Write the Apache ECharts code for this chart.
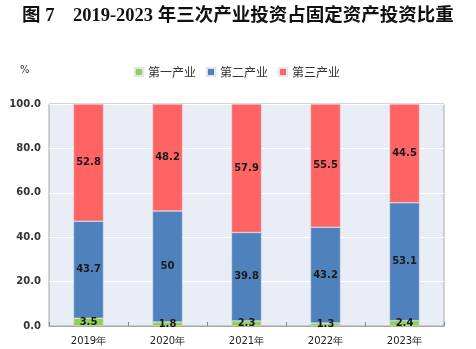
<!DOCTYPE html>
<html><head><meta charset="utf-8">
<script src="https://cdn.jsdelivr.net/npm/echarts@6/dist/echarts.min.js"></script>
<style>html,body{margin:0;padding:0;background:#fff}#c{width:476px;height:349px}</style>
</head><body><div id="c"></div>
<script>
const categories = ['2019年','2020年','2021年','2022年','2023年'];
const primary = [3.5, 1.8, 2.3, 1.3, 2.4];
const secondary = [43.7, 50, 39.8, 43.2, 53.1];
const tertiary = [52.8, 48.2, 57.9, 55.5, 44.5];
const yTicks = [0, 20, 40, 60, 80, 100];

const chart = echarts.init(document.getElementById('c'), null, {renderer:'canvas'});
const lbl = {show:true, position:'inside', color:'#1a1a1a', fontSize:10, fontWeight:'bold', fontFamily:'DejaVu Sans'};
chart.setOption({
  animation:false,
  backgroundColor:'#fff',
  title:{text:'图 7　2019-2023 年三次产业投资占固定资产投资比重', left:17, top:2,
    textStyle:{fontSize:18.5, fontWeight:'bold', color:'#111', fontFamily:'Liberation Serif, Noto Sans CJK SC'}},
  graphic:[{type:'text', left:20, top:65, style:{text:'%', fontSize:10, fill:'#333', fontFamily:'DejaVu Sans'}}],
  legend:{top:61, left:129, itemWidth:8, itemHeight:8, itemGap:10, icon:'rect',
    textStyle:{fontSize:12, color:'#333', fontFamily:'Noto Sans CJK SC'},
    data:['第一产业','第二产业','第三产业']},
  grid:{left:49, right:32, top:104, bottom:23, show:true, backgroundColor:'#E9EDF5', borderColor:'#A6A6A6', borderWidth:1},
  xAxis:{type:'category', data:categories, boundaryGap:true,
    axisLine:{lineStyle:{color:'#A6A6A6'}},
    axisTick:{show:true, inside:true, length:4, lineStyle:{color:'#888'}},
    axisLabel:{fontSize:10, color:'#222', fontFamily:'DejaVu Sans', margin:10}},
  yAxis:{type:'value', min:0, max:100, interval:20,
    axisLine:{show:false}, axisTick:{show:false},
    splitLine:{lineStyle:{color:'#FFFFFF', width:1}},
    axisLabel:{fontSize:10, fontWeight:'bold', color:'#333', fontFamily:'DejaVu Sans', margin:8,
      formatter:v=>yTicks.includes(v)?v.toFixed(1):''}},
  series:[
    {name:'第一产业', type:'bar', stack:'a', barWidth:30, data:primary, itemStyle:{color:'#92D050', borderColor:'#dfe6f0', borderWidth:0.5}, label:lbl},
    {name:'第二产业', type:'bar', stack:'a', data:secondary, itemStyle:{color:'#4F81BD', borderColor:'#dfe6f0', borderWidth:0.5}, label:lbl},
    {name:'第三产业', type:'bar', stack:'a', data:tertiary, itemStyle:{color:'#FF6464', borderColor:'#dfe6f0', borderWidth:0.5}, label:lbl}
  ]
});
</script></body></html>
